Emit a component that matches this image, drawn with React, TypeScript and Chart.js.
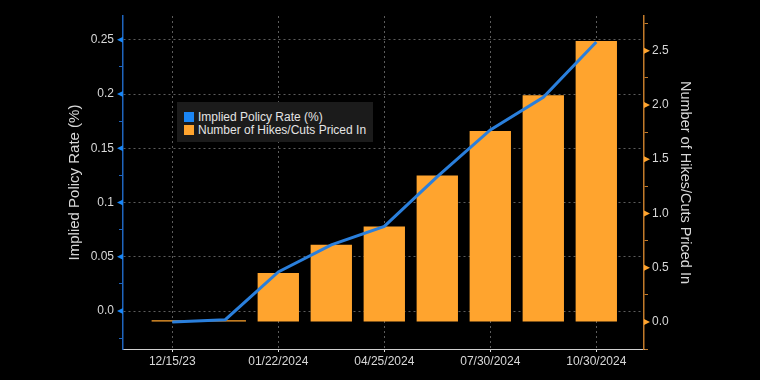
import React, { useEffect, useRef } from "react";
import { Chart, registerables } from "chart.js";

Chart.register(...registerables);

// ---- Data ----
const meetingIndex = [0, 1, 2, 3, 4, 5, 6, 7, 8];
const impliedRate = [-0.010, -0.008, 0.036, 0.061, 0.078, 0.124, 0.167, 0.197, 0.248];
const hikesPriced = [0.015, 0.015, 0.45, 0.71, 0.88, 1.35, 1.76, 2.09, 2.59];

const xTickPositions = [0, 2, 4, 6, 8];
const xTickLabels = ["12/15/23", "01/22/2024", "04/25/2024", "07/30/2024", "10/30/2024"];

const leftMajorTicks = [0, 0.05, 0.1, 0.15, 0.2, 0.25];
const leftTickLabels = ["0.0", "0.05", "0.1", "0.15", "0.2", "0.25"];
const leftMinorTicks = [-0.025, 0.025, 0.075, 0.125, 0.175, 0.225];

const rightMajorTicks = [0, 0.5, 1, 1.5, 2, 2.5];
const rightTickLabels = ["0.0", "0.5", "1.0", "1.5", "2.0", "2.5"];
const rightMinorTicks = [-0.25, 0.25, 0.75, 1.25, 1.75, 2.25, 2.75];

const seriesLabels = ["Implied Policy Rate (%)", "Number of Hikes/Cuts Priced In"];
const leftTitle = "Implied Policy Rate (%)";
const rightTitle = "Number of Hikes/Cuts Priced In";

// ---- Styles ----
const BLUE_LINE = "#2a7fdc";
const BLUE_LEGEND = "#1a86f5";
const BLUE_AXIS = "#1f64bd";
const ORANGE = "#ffa42e";
const ORANGE_AXIS = "#c27a2a";
const TEXT = "#d8d8d8";
const GRID = "#5c5c5c";
const FONT = "'Liberation Sans', Arial, sans-serif";

const findIdx = (arr: number[], v: number) => arr.findIndex((m) => Math.abs(m - v) < 1e-9);

const trianglePlugin = {
  id: "axisTriangles",
  afterDraw(chart: any) {
    const ctx = chart.ctx;
    const l = chart.scales.yL;
    const r = chart.scales.yR;
    ctx.save();
    ctx.fillStyle = BLUE_LEGEND;
    leftMajorTicks.forEach((v) => {
      const y = l.getPixelForValue(v);
      ctx.beginPath();
      ctx.moveTo(l.right, y - 3);
      ctx.lineTo(l.right, y + 3);
      ctx.lineTo(l.right - 6, y);
      ctx.closePath();
      ctx.fill();
    });
    ctx.fillStyle = ORANGE;
    rightMajorTicks.forEach((v) => {
      const y = r.getPixelForValue(v);
      ctx.beginPath();
      ctx.moveTo(r.left, y - 3);
      ctx.lineTo(r.left, y + 3);
      ctx.lineTo(r.left + 6, y);
      ctx.closePath();
      ctx.fill();
    });
    ctx.restore();
  },
};

export default function App() {
  const canvasRef = useRef<HTMLCanvasElement | null>(null);

  useEffect(() => {
    if (!canvasRef.current) return;
    Chart.defaults.font.family = FONT;
    Chart.defaults.font.size = 12;
    Chart.defaults.color = TEXT;

    const chart = new Chart(canvasRef.current, {
      type: "bar",
      data: {
        datasets: [
          {
            type: "line",
            label: seriesLabels[0],
            data: meetingIndex.map((x, i) => ({ x, y: impliedRate[i] })),
            yAxisID: "yL",
            borderColor: BLUE_LINE,
            backgroundColor: BLUE_LINE,
            borderWidth: 3,
            pointRadius: 0,
            tension: 0,
            order: 0,
          } as any,
          {
            type: "bar",
            label: seriesLabels[1],
            data: meetingIndex.map((x, i) => ({ x, y: hikesPriced[i] })),
            yAxisID: "yR",
            backgroundColor: ORANGE,
            borderWidth: 0,
            barPercentage: 0.78,
            categoryPercentage: 1,
            order: 1,
          } as any,
        ],
      },
      options: {
        responsive: false,
        maintainAspectRatio: false,
        animation: false,
        layout: { padding: { top: 16, left: 0, right: 0, bottom: 0 } },
        plugins: { legend: { display: false }, tooltip: { enabled: false } },
        scales: {
          x: {
            type: "linear",
            min: -0.93,
            max: 8.9,
            offset: false,
            afterFit: (s: any) => {
              s.height = 31;
            },
            afterBuildTicks: (s: any) => {
              s.ticks = xTickPositions.map((v) => ({ value: v }));
            },
            ticks: {
              autoSkip: false,
              maxRotation: 0,
              padding: 2,
              color: TEXT,
              callback: (v: any) => {
                const i = findIdx(xTickPositions, Number(v));
                return i >= 0 ? xTickLabels[i] : "";
              },
            },
            grid: {
              offset: false,
              color: GRID,
              lineWidth: 1,
              tickColor: "#e0e0e0",
              tickLength: 3,
              tickBorderDash: [],
            },
            border: { color: "#d0d0d0", width: 1, dash: [2, 3] },
          } as any,
          yL: {
            type: "linear",
            position: "left",
            min: -0.035,
            max: 0.272,
            afterFit: (s: any) => {
              s.width = 123;
            },
            afterBuildTicks: (s: any) => {
              s.ticks = [...leftMinorTicks, ...leftMajorTicks]
                .sort((a, b) => a - b)
                .map((v) => ({ value: v }));
            },
            ticks: {
              autoSkip: false,
              padding: 5,
              color: TEXT,
              callback: (v: any) => {
                const i = findIdx(leftMajorTicks, Number(v));
                return i >= 0 ? leftTickLabels[i] : "";
              },
            },
            grid: {
              color: (c: any) =>
                c.tick && findIdx(leftMajorTicks, c.tick.value) >= 0 ? GRID : "rgba(0,0,0,0)",
              lineWidth: 1,
              tickColor: BLUE_AXIS,
              tickLength: 4,
              tickBorderDash: [],
            },
            border: { color: BLUE_AXIS, width: 1.5, dash: [2, 3] },
            title: {
              display: true,
              text: leftTitle,
              color: TEXT,
              font: { size: 15 },
              padding: { top: 66, bottom: 0 },
            },
          } as any,
          yR: {
            type: "linear",
            position: "right",
            min: -0.25,
            max: 2.82,
            afterFit: (s: any) => {
              s.width = 116;
            },
            afterBuildTicks: (s: any) => {
              s.ticks = [...rightMinorTicks, ...rightMajorTicks]
                .sort((a, b) => a - b)
                .map((v) => ({ value: v }));
            },
            ticks: {
              autoSkip: false,
              padding: 4,
              color: TEXT,
              callback: (v: any) => {
                const i = findIdx(rightMajorTicks, Number(v));
                return i >= 0 ? rightTickLabels[i] : "";
              },
            },
            grid: {
              drawOnChartArea: false,
              tickColor: ORANGE_AXIS,
              tickLength: 4,
              tickBorderDash: [],
            },
            border: { color: ORANGE_AXIS, width: 1.5 },
            title: {
              display: true,
              text: rightTitle,
              color: TEXT,
              font: { size: 14.5 },
              padding: { top: 66, bottom: 0 },
            },
          } as any,
        },
      },
      plugins: [trianglePlugin],
    });
    return () => chart.destroy();
  }, []);

  const legendColors = [BLUE_LEGEND, ORANGE];

  return (
    <div
      style={{
        position: "fixed",
        left: 0,
        top: 0,
        width: 760,
        height: 380,
        background: "#000",
        overflow: "hidden",
      }}
    >
      <canvas ref={canvasRef} width={760} height={380} style={{ display: "block" }} />
      <div
        style={{
          position: "absolute",
          left: 177,
          top: 102,
          width: 196,
          height: 40,
          background: "#1b1b1b",
          boxSizing: "border-box",
          paddingTop: 8,
          paddingLeft: 7,
          fontFamily: FONT,
          fontSize: 12,
          color: "#e4e4e4",
        }}
      >
        {seriesLabels.map((lab, i) => (
          <div key={lab} style={{ display: "flex", alignItems: "center", height: 13.5 }}>
            <span
              style={{
                display: "inline-block",
                width: 10,
                height: 10,
                background: legendColors[i],
                marginRight: 4,
              }}
            />
            <span style={{ whiteSpace: "nowrap" }}>{lab}</span>
          </div>
        ))}
      </div>
    </div>
  );
}
